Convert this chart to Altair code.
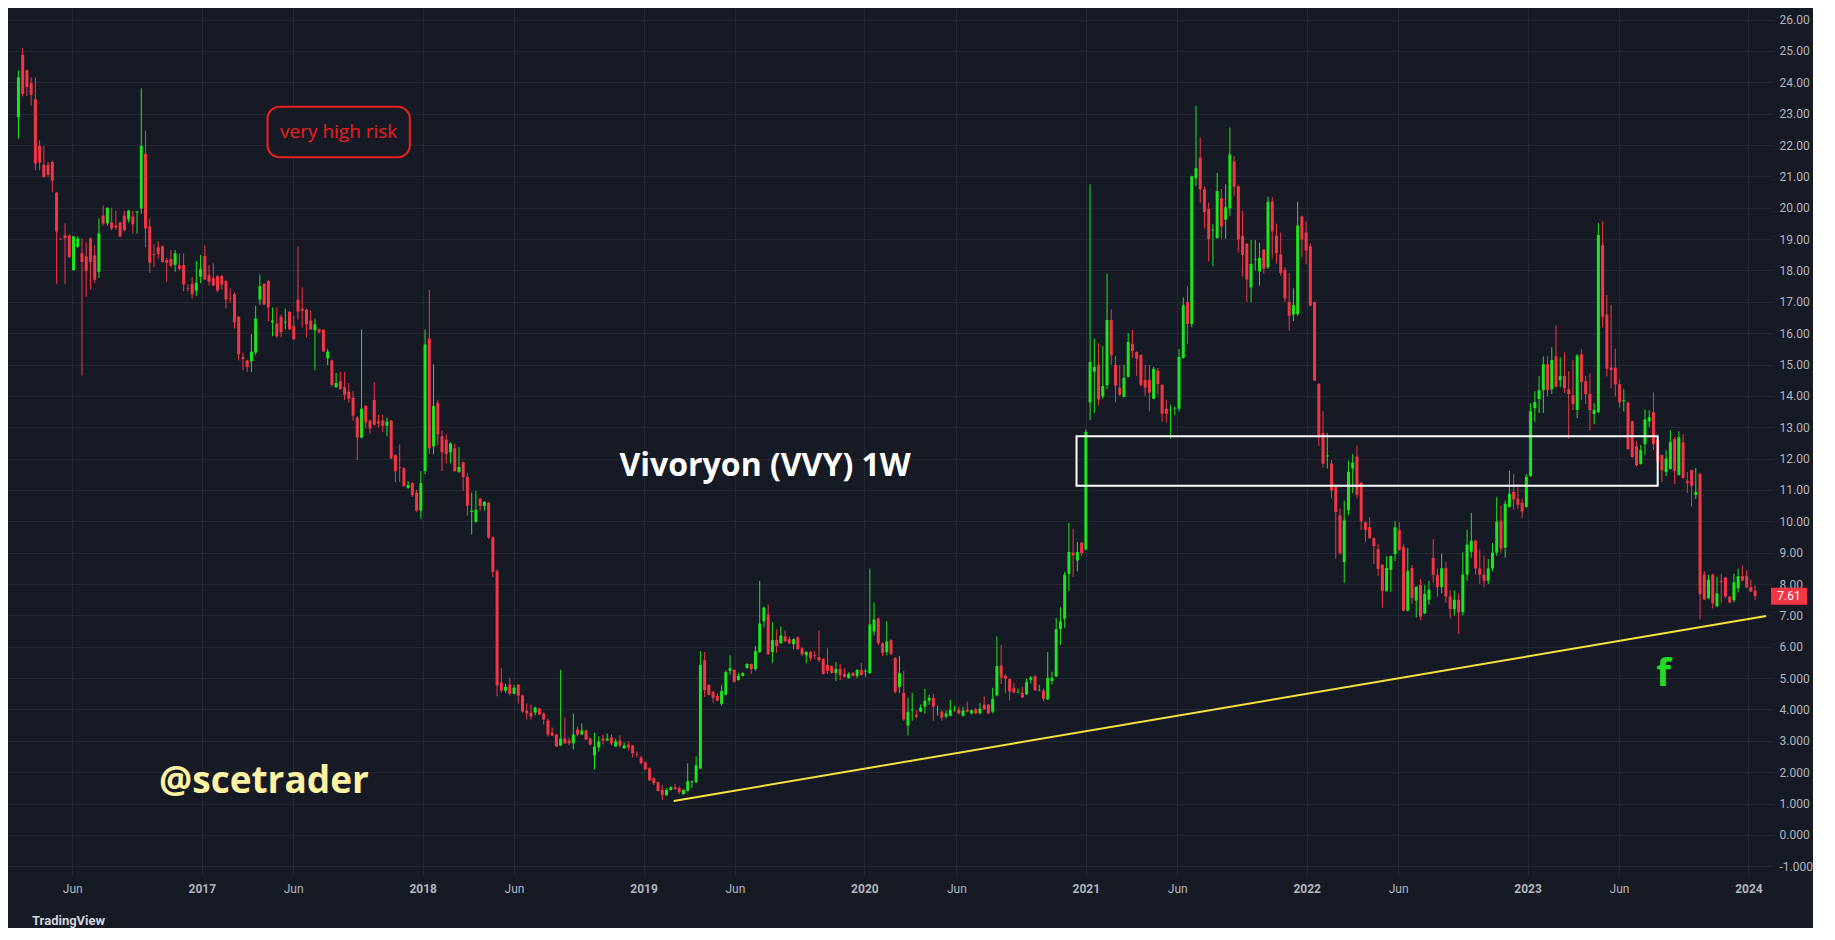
import altair as alt
import pandas as pd
import numpy as np

# ---- weekly OHLC, first bar week of 2016-02-29 ----
O = [22.89,24.88,24.38,23.97,23.46,21.97,21.37,21.37,21.46,20.48,
     19.01,19.12,19.12,18.01,18.75,18.55,18.45,19.02,18.48,17.96,
     19.75,19.5,19.53,19.43,19.53,19.75,19.63,19.72,19.85,19.98,
     21.72,19.4,18.52,18.74,18.77,18.33,18.36,18.18,18.17,18.17,
     17.43,17.57,17.36,17.8,18.46,17.85,17.76,17.82,17.82,17.66,
     17.12,17.25,16.52,15.23,15.13,15.1,15.38,17.07,17.57,17.66,
     16.34,16.31,16.52,16.34,16.68,16.22,17.07,16.78,16.75,16.4,
     16.09,16.12,16.11,15.2,15.13,14.28,14.47,14.28,14.13,13.94,
     13.31,12.67,13.68,13.21,13.87,13.18,13.21,13.05,13.21,12.11,
     11.73,11.69,11.06,11.22,10.91,10.34,11.6,15.83,12.39,13.78,
     12.71,12.61,12.2,12.33,11.57,11.88,11.41,10.3,9.98,10.72,
     10.49,10.59,9.49,8.41,4.85,4.6,4.79,4.5,4.79,4.44,
     3.96,3.9,3.9,4.03,3.87,3.65,3.26,3.2,2.85,3.07,
     3.01,2.92,3.36,3.2,3.33,3.07,2.53,2.79,3.07,3.01,
     3.1,2.82,3.01,2.76,2.88,2.85,2.57,2.47,2.31,2.12,
     1.81,1.68,1.43,1.27,1.43,1.52,1.49,1.3,1.4,1.68,
     1.68,2.12,5.57,4.78,4.56,4.43,4.18,4.47,5.23,5.26,
     4.94,5.07,5.32,5.45,5.29,5.83,6.81,7.03,5.83,6.21,
     6.11,6.33,6.24,6.08,6.3,5.95,5.73,5.83,5.73,5.67,
     5.61,5.42,5.38,5.16,5.29,5.13,5.0,5.16,5.07,5.26,
     5.21,5.16,6.49,6.9,6.11,5.83,6.21,5.64,4.72,4.53,
     3.49,3.97,3.84,3.93,4.09,4.28,4.37,3.98,3.93,3.77,
     3.8,3.95,3.99,3.8,3.99,3.88,4.0,3.88,4.15,4.15,
     3.93,4.45,5.4,5.07,4.97,4.69,4.54,4.53,4.48,4.95,
     5.05,4.61,4.6,4.32,4.91,5.05,6.56,6.89,8.32,9.0,
     8.75,9.32,9.1,13.79,14.77,14.99,13.98,14.34,16.42,14.99,
     14.26,13.97,14.61,15.65,15.4,15.3,14.51,14.51,13.91,14.8,
     14.35,13.59,13.54,13.6,13.59,15.21,16.99,16.29,20.94,21.6,
     20.59,19.96,19.28,19.04,20.3,19.62,19.98,21.48,20.68,19.1,
     18.85,17.46,18.33,17.97,18.66,18.1,20.2,19.11,18.51,18.01,
     16.99,16.59,16.61,19.72,19.21,18.77,16.99,14.38,12.82,12.07,
     11.84,11.09,10.19,8.7,10.35,11.68,12.06,11.23,9.97,9.81,
     9.46,9.11,8.61,7.78,8.45,8.96,9.72,9.18,7.15,8.51,
     7.47,7.97,7.06,7.5,8.83,8.29,7.9,8.5,7.6,7.2,
     7.5,7.1,8.3,9.03,9.38,8.5,8.3,8.1,8.5,9.0,
     10.02,9.16,10.46,10.94,10.72,10.59,10.46,11.45,13.61,13.9,
     14.18,15.01,14.21,15.26,14.5,14.63,14.21,14.02,13.55,15.33,
     14.47,14.06,13.42,13.49,18.81,16.59,14.9,14.9,14.37,13.83,
     13.79,13.19,12.39,11.83,12.46,13.19,13.48,12.59,12.11,11.57,
     11.67,12.62,11.48,12.52,11.29,11.63,10.84,11.51,8.3,7.54,
     8.3,7.29,8.1,8.21,7.6,7.48,7.86,8.25,8.27,7.9,
     7.79]
H = [24.38,25.1,24.4,24.16,24.16,22.16,21.97,21.46,21.5,20.5,
     19.03,19.5,19.15,19.09,19.09,19.02,18.9,19.05,18.8,19.66,
     20.07,20.0,20.0,19.9,19.55,19.9,19.93,19.91,19.9,23.81,
     22.45,19.66,18.83,18.93,18.8,18.4,18.65,18.65,18.55,18.55,
     17.55,17.8,18.3,18.49,18.8,18.17,18.23,17.85,17.85,17.7,
     17.42,17.3,16.55,15.38,15.15,15.97,16.87,17.87,17.6,17.7,
     16.82,16.82,16.59,16.78,16.7,16.56,18.77,17.46,16.78,16.72,
     16.46,16.15,16.13,15.5,15.15,14.73,14.76,14.76,14.41,14.16,
     13.35,16.12,13.7,13.25,14.44,13.4,13.4,13.31,13.23,12.13,
     12.45,11.72,11.28,11.25,11.0,11.6,16.12,17.38,15.01,13.87,
     12.89,12.77,12.52,12.48,12.36,11.9,11.54,10.91,10.97,10.75,
     10.64,10.62,9.52,8.47,5.33,4.82,5.01,4.79,4.81,4.47,
     4.19,4.16,4.09,4.05,3.9,3.71,3.42,3.22,5.26,3.74,
     3.1,3.87,3.46,3.55,3.35,3.1,3.26,3.14,3.2,3.23,
     3.2,3.07,3.17,2.95,2.98,2.87,2.66,2.53,2.34,2.15,
     1.83,1.7,1.59,1.49,1.55,1.62,1.55,1.46,2.28,1.73,
     2.5,5.86,5.83,4.8,4.6,4.52,4.78,5.25,5.73,5.28,
     5.16,5.18,5.48,5.47,6.02,8.1,7.28,7.35,6.78,6.55,
     6.65,6.52,6.33,6.27,6.33,5.98,5.86,5.86,5.86,6.52,
     5.63,5.95,5.4,5.51,5.45,5.32,5.19,5.19,5.29,5.48,
     5.29,8.49,7.41,6.93,6.14,6.81,6.24,5.67,5.7,5.23,
     4.37,4.53,3.97,4.16,4.66,4.47,4.5,4.12,3.99,3.97,
     4.31,4.12,4.09,4.09,4.25,4.0,4.05,4.21,4.41,4.17,
     4.69,6.33,6.05,5.13,4.99,4.85,4.67,4.72,4.98,5.07,
     5.11,4.78,4.66,5.83,5.2,6.92,7.26,8.39,9.95,9.76,
     9.34,9.34,12.93,20.75,15.82,15.68,15.59,17.9,16.76,15.27,
     14.99,14.99,16.0,16.1,15.42,15.32,14.99,14.99,14.92,14.89,
     14.37,13.88,13.72,13.66,15.49,17.14,17.49,21.02,23.25,22.24,
     20.69,20.16,19.48,21.11,20.6,20.75,22.56,21.64,20.72,19.9,
     18.87,18.97,18.97,18.88,18.68,20.35,20.35,19.49,19.21,18.1,
     17.91,17.43,20.19,19.75,19.56,18.86,17.01,14.41,13.51,12.82,
     11.96,11.11,10.41,10.66,11.93,12.15,12.41,11.25,10.0,10.13,
     9.48,9.27,8.63,8.89,8.91,10.0,9.97,9.27,9.15,8.61,
     7.93,8.16,7.97,8.1,9.43,8.5,8.97,8.7,7.8,7.8,
     7.7,9.0,9.73,10.27,9.4,9.1,8.9,8.8,9.3,10.78,
     10.5,10.66,11.61,11.51,11.19,10.72,11.51,13.77,14.15,14.63,
     15.26,15.26,15.55,16.25,15.23,15.39,14.79,15.14,15.33,15.49,
     14.63,14.72,13.77,19.51,19.57,17.22,16.9,15.51,14.52,14.21,
     13.81,13.21,12.56,12.43,13.57,13.54,14.11,12.69,12.13,12.27,
     12.9,12.69,12.87,12.78,11.57,11.65,11.7,11.55,8.41,8.29,
     8.33,8.24,8.33,8.23,7.62,8.33,8.49,8.59,8.43,8.14,
     7.95]
L = [22.2,23.55,23.56,23.26,21.19,21.19,20.97,20.99,20.49,17.56,
     18.98,17.56,18.4,18.0,18.72,14.65,17.16,17.39,17.6,17.76,
     19.43,19.43,19.28,19.3,19.05,19.25,19.53,19.18,19.18,19.81,
     18.74,17.92,18.1,18.37,18.25,17.64,18.1,17.96,18.0,17.33,
     17.33,17.1,17.19,17.6,17.7,17.52,17.5,17.3,17.39,16.79,
     16.97,16.15,15.13,14.81,14.76,14.76,15.3,16.91,16.9,16.38,
     15.9,15.85,15.87,16.12,16.1,15.78,16.43,16.18,15.87,16.1,
     14.81,16.0,15.4,14.98,14.3,14.25,14.2,13.87,13.78,13.21,
     11.95,12.65,12.96,12.8,13.05,12.99,12.85,12.71,11.98,11.25,
     11.25,11.09,11.04,10.78,10.3,10.08,11.5,12.14,12.14,12.42,
     11.6,11.85,11.85,11.58,11.55,10.97,10.18,9.58,9.96,10.34,
     10.34,9.44,8.23,4.42,4.53,4.53,4.44,4.48,4.19,3.9,
     3.68,3.68,3.81,3.82,3.52,3.14,3.15,2.8,2.83,2.9,
     2.85,2.72,3.14,3.18,3.02,2.85,2.09,2.66,2.88,2.99,
     2.85,2.8,2.79,2.74,2.69,2.47,2.47,2.26,2.07,1.72,
     1.59,1.38,1.11,1.24,1.41,1.44,1.3,1.28,1.38,1.5,
     1.66,2.09,4.4,4.45,4.21,4.26,4.12,4.45,5.1,4.86,
     4.92,5.05,5.3,5.13,5.23,5.8,6.62,5.74,5.48,5.8,
     6.09,6.15,6.09,5.92,5.9,5.7,5.48,5.54,5.6,5.51,
     5.11,5.13,5.14,4.91,4.94,5.02,4.98,5.05,5.0,5.08,
     5.04,5.14,6.36,6.05,5.7,5.73,5.74,4.5,4.53,3.64,
     3.17,3.64,3.71,3.91,3.87,4.15,3.64,3.8,3.64,3.71,
     3.78,3.93,3.85,3.77,3.9,3.84,3.85,3.84,3.98,3.85,
     3.87,4.42,4.81,4.51,4.28,4.52,4.52,4.36,4.46,4.83,
     4.59,4.58,4.26,4.3,4.79,5.03,6.06,6.6,7.78,8.22,
     8.4,8.89,9.08,13.22,13.46,13.7,13.91,14.21,14.99,13.79,
     14.0,13.95,14.59,15.21,14.64,14.3,14.0,13.5,13.89,14.04,
     13.18,13.15,12.64,13.38,13.5,15.19,15.65,16.19,20.69,20.16,
     19.33,18.29,18.13,19.0,19.01,19.01,19.74,20.38,18.57,17.81,
     16.99,16.99,18.0,17.52,17.9,18.05,18.38,18.21,17.83,17.0,
     16.08,16.39,16.55,18.42,18.2,16.85,14.47,12.41,11.71,11.68,
     10.73,8.8,8.92,8.04,10.19,10.89,10.73,9.72,9.34,9.44,
     8.64,8.26,7.25,7.76,7.75,8.73,9.06,7.13,7.13,7.37,
     6.93,6.84,7.04,7.34,8.04,7.6,7.7,7.4,6.9,7.0,
     6.4,7.0,8.1,8.84,8.3,8.0,7.9,8.0,8.4,8.9,
     9.0,8.84,10.44,10.37,10.4,10.11,10.44,11.42,13.17,13.45,
     13.45,13.99,14.06,14.27,14.28,14.09,12.63,13.55,13.29,13.86,
     13.74,12.91,13.1,13.45,16.19,14.62,14.24,13.98,13.63,13.5,
     12.28,12.03,11.76,11.81,12.11,13.0,12.27,11.87,11.25,11.44,
     11.65,11.19,11.46,11.36,10.9,10.47,10.71,6.87,7.49,7.52,
     7.22,7.27,7.41,7.55,7.39,7.41,7.73,8.09,7.87,7.74,
     7.49]
C = [24.16,23.63,23.85,23.6,21.41,21.44,20.97,21.05,20.87,19.24,
     18.99,19.03,18.43,19.09,19.02,18.27,17.99,18.27,17.7,19.18,
     19.5,20.0,19.34,19.37,19.09,19.28,19.91,19.47,19.88,21.97,
     19.34,18.24,18.49,18.53,18.27,18.24,18.15,18.55,18.05,17.55,
     17.41,17.24,17.6,18.04,17.71,17.64,17.52,17.36,17.55,17.07,
     17.1,16.34,15.32,15.17,14.92,15.41,16.47,17.5,16.91,16.82,
     16.4,15.9,16.03,16.37,16.12,15.81,16.69,16.72,16.28,16.12,
     16.28,16.03,15.42,15.41,14.35,14.41,14.22,14.03,13.91,13.37,
     12.67,13.59,13.15,12.96,13.08,13.12,13.05,13.18,12.01,11.6,
     11.71,11.13,11.16,10.84,10.34,11.22,15.64,12.33,13.68,12.77,
     12.2,12.14,12.48,11.6,11.73,11.41,10.49,10.34,10.37,10.49,
     10.62,9.48,8.39,4.77,4.6,4.72,4.5,4.69,4.44,3.93,
     3.87,3.77,4.06,3.84,3.68,3.2,3.17,2.82,3.07,2.92,
     2.92,3.2,3.2,3.33,3.04,2.88,2.82,2.98,3.01,3.07,
     2.92,2.98,2.85,2.85,2.79,2.6,2.55,2.28,2.09,1.74,
     1.65,1.4,1.27,1.43,1.52,1.46,1.36,1.43,1.71,1.71,
     2.22,5.42,4.62,4.47,4.37,4.28,4.59,5.19,5.32,4.88,
     5.07,5.16,5.45,5.29,5.86,6.74,7.25,5.76,6.21,6.02,
     6.36,6.17,6.11,6.24,5.92,5.76,5.83,5.64,5.7,5.57,
     5.13,5.23,5.16,5.29,5.1,5.04,5.13,5.07,5.26,5.1,
     5.23,6.71,6.87,6.11,5.8,6.17,5.76,4.56,5.16,3.68,
     3.93,4.0,3.77,4.06,4.28,4.37,4.09,3.99,3.74,3.87,
     3.99,3.96,3.87,3.96,3.93,3.97,3.87,4.02,4.0,3.87,
     4.34,5.38,5.02,4.98,4.57,4.54,4.56,4.38,4.88,5.02,
     4.61,4.62,4.34,5.01,5.01,6.56,6.81,8.3,9.02,8.91,
     9.02,8.98,12.85,15.08,14.92,13.89,14.32,16.42,15.3,14.32,
     14.04,14.57,15.72,15.43,15.18,14.35,14.26,14.1,14.86,14.38,
     13.43,13.43,13.56,13.62,15.24,16.89,16.29,21.0,21.26,20.59,
     19.86,19.0,19.3,20.53,19.4,20.02,21.7,20.67,18.99,18.49,
     17.71,18.21,18.35,18.4,18.06,20.19,19.24,18.55,17.92,17.1,
     16.55,16.9,19.43,18.99,18.64,16.88,14.49,12.75,11.84,12.1,
     10.98,10.3,8.99,10.03,11.58,11.87,10.85,10.0,9.72,9.46,
     9.21,8.48,7.78,8.51,8.89,9.81,9.08,7.15,8.42,7.56,
     7.91,6.96,7.69,7.82,8.29,7.9,8.5,7.6,7.2,7.5,
     7.1,8.3,9.26,9.38,8.5,8.3,8.1,8.5,9.0,9.99,
     9.13,10.56,10.88,10.69,10.53,10.31,11.42,13.51,13.8,14.18,
     15.01,14.18,15.14,14.29,14.63,14.25,14.06,13.74,15.29,14.44,
     14.06,13.55,13.55,19.13,16.52,14.87,14.82,14.37,13.79,13.86,
     12.3,12.05,11.79,12.27,13.25,13.32,12.46,11.89,11.63,12.0,
     12.53,11.6,12.68,11.38,11.22,11.13,10.94,7.67,7.51,8.14,
     7.38,7.7,8.06,7.6,7.41,8.05,8.25,8.11,7.89,7.76,
     7.61]

FIRST_BAR = "2016-03-04"          # bar of the week starting 2016-02-29
LAST_PRICE = 7.61
PRICE_TICKS = list(range(-1, 27))

# annotations: (bar index, price)
TREND = [(155.7, 1.08), (413.6, 6.98)]
ZONE = (250.8, 388.0, 11.13, 12.71)
RISK_BOX = (59.8, 93.4, 21.61, 23.22)
RISK_TXT = (76.6, 22.42, "very high risk")
TITLE_TXT = (142.9, 11.76, "Vivoryon (VVY) 1W")
HANDLE_TXT = (34.2, 1.68, "@scetrader")
F_TXT = (389.4, 5.1, "f")

BG = "#161a25"
GRID = "#242833"
AXC = "#b2b5be"
UP = "#1de51d"
DOWN = "#f23645"

start = pd.Timestamp(FIRST_BAR)
def wk(k):
    return (start + pd.Timedelta(days=7 * (k - 1))).strftime("%Y-%m-%dT%H:%M:%SZ")

n = len(C)
df = pd.DataFrame({
    "date": [(start + pd.Timedelta(days=7 * i)).strftime("%Y-%m-%d") for i in range(n)],
    "open": O, "high": H, "low": L, "close": C,
})

xdom = [alt.DateTime(year=2016, month=2, date=24, utc=True),
        alt.DateTime(year=2024, month=1, date=30, utc=True)]
ticks = []
for y in range(2016, 2024):
    ticks.append(alt.DateTime(year=y, month=6, date=1, utc=True))
    ticks.append(alt.DateTime(year=y + 1, month=1, date=1, utc=True))

xscale = alt.Scale(type="utc", domain=xdom)
yscale = alt.Scale(domain=[-1.28, 26.37], nice=False, zero=False)

xaxis = alt.Axis(values=ticks, title=None, grid=True, gridColor=GRID, domain=False, ticks=False,
                 labelColor=AXC, labelFontSize=12, labelFont="Roboto", labelPadding=8,
                 labelOverlap=False,
                 labelExpr="utcmonth(datum.value) == 0 ? utcFormat(datum.value, '%Y') : 'Jun'",
                 labelFontWeight={"condition": {"test": "utcmonth(datum.value) == 0", "value": "bold"}, "value": "normal"})
yaxis = alt.Axis(orient="right", values=PRICE_TICKS, title=None, grid=True, gridColor=GRID,
                 domain=False, ticks=False, labelColor=AXC, labelFontSize=12, labelFont="Roboto",
                 labelPadding=8, labelOverlap=False, labelBound=False, labelFlush=False,
                 labelExpr="datum.value >= 6 ? format(datum.value, '.2f') : replace(format(datum.value, '.3f'), '\u2212', '-')")

color = alt.condition("datum.close >= datum.open", alt.value(UP), alt.value(DOWN))
base = alt.Chart(df)
X = alt.X("date:T", scale=xscale, axis=xaxis)
Y = lambda f: alt.Y(f, scale=yscale, axis=yaxis)

wicks = base.mark_rule(strokeWidth=1).encode(x=X, y=Y("low:Q"), y2="high:Q", color=color)
bodies = base.mark_bar(size=3).encode(x=X, y=Y("open:Q"), y2="close:Q", color=color)

trend_df = pd.DataFrame({"date": [wk(k) for k, _ in TREND], "p": [p for _, p in TREND]})
trend = alt.Chart(trend_df).mark_line(color="#f7e43a", strokeWidth=2).encode(x=X, y=Y("p:Q"))

zone_df = pd.DataFrame({"date": [wk(ZONE[0])], "x2": [wk(ZONE[1])], "p": [ZONE[2]], "y2": [ZONE[3]]})
zone = alt.Chart(zone_df).mark_rect(fill=None, fillOpacity=0, stroke="white", strokeWidth=2).encode(
    x=X, x2="x2:T", y=Y("p:Q"), y2="y2:Q")

risk_df = pd.DataFrame({"date": [wk(RISK_BOX[0])], "x2": [wk(RISK_BOX[1])], "p": [RISK_BOX[2]], "y2": [RISK_BOX[3]]})
risk_box = alt.Chart(risk_df).mark_rect(fill=BG, stroke="#f01e1e", strokeWidth=2, cornerRadius=12).encode(
    x=X, x2="x2:T", y=Y("p:Q"), y2="y2:Q")

def text_layer(spec, color, size, weight, align, font):
    d = pd.DataFrame({"date": [wk(spec[0])], "p": [spec[1]], "t": [spec[2]]})
    return alt.Chart(d).mark_text(align=align, baseline="middle", color=color, fontSize=size,
                                  fontWeight=weight, font=font).encode(x=X, y=Y("p:Q"), text="t:N")

risk_txt = text_layer(RISK_TXT, "#f01e1e", 19, "normal", "center", "Open Sans")
title_txt = text_layer(TITLE_TXT, "#ffffff", 32, "bold", "left", "Open Sans")
handle_txt = text_layer(HANDLE_TXT, "#fff3a3", 37, "bold", "left", "Open Sans")
f_txt = text_layer(F_TXT, "#22dd22", 38, "bold", "center", "Open Sans")

W, Hh = 1763, 867
tag_df = pd.DataFrame({"p": [LAST_PRICE], "lo": [LAST_PRICE - 0.27], "hi": [LAST_PRICE + 0.27],
                       "t": [f"{LAST_PRICE:.2f}"]})
tag_box = alt.Chart(tag_df).mark_rect(color=DOWN).encode(
    x=alt.value(W), x2=alt.value(W + 36), y=Y("lo:Q"), y2="hi:Q")
tag_txt = alt.Chart(tag_df).mark_text(color="white", fontSize=12, font="Roboto", align="center",
                                      baseline="middle").encode(x=alt.value(W + 18), y=Y("p:Q"), text="t:N")

chart = alt.layer(wicks, bodies, trend, zone, risk_box, risk_txt, title_txt, handle_txt, f_txt,
                  tag_box, tag_txt).properties(
    width=W, height=Hh, padding=0,
    title=alt.TitleParams("TradingView", orient="bottom", anchor="start", color="#d1d4dc",
                          fontSize=13, font="Roboto", fontWeight="bold", offset=21, dx=24),
).configure(background=BG).configure_view(stroke=None).configure_axis(labelOverlap=False)

chart.save("out.html", embed_options={"renderer": "svg", "actions": False})
